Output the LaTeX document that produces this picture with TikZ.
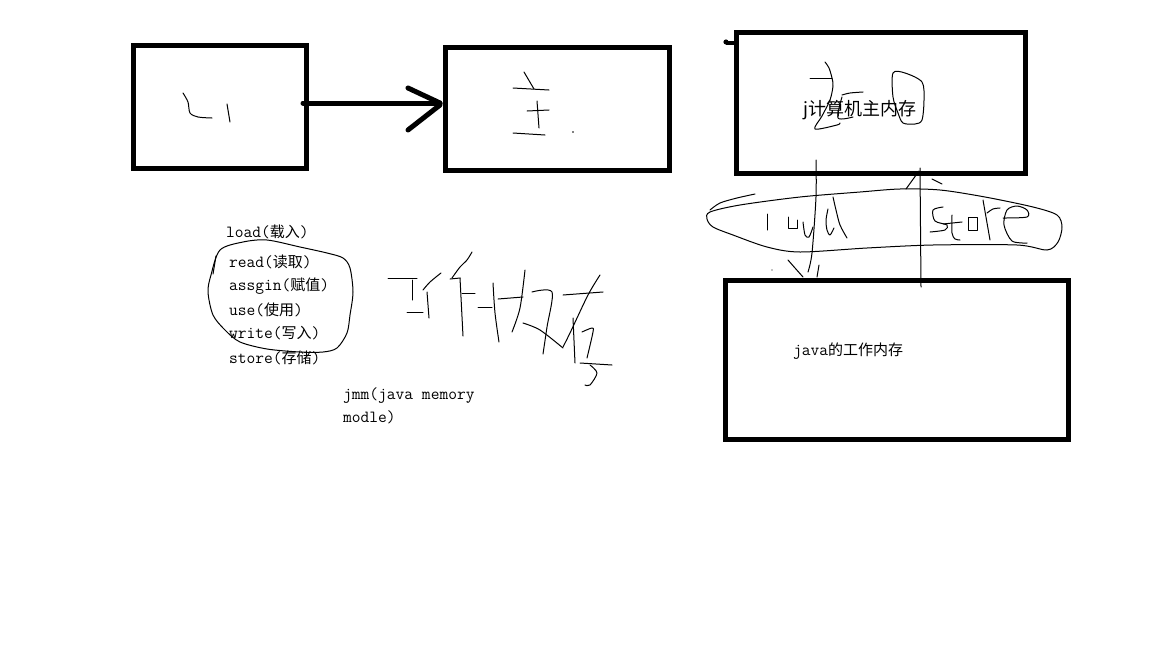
\documentclass[tikz,border=0pt]{standalone}
\usepackage{fontspec}
\usepackage{tikz}
\usetikzlibrary{positioning}
\newfontfamily\cjk{Noto Sans CJK SC}
\newcommand\zh[1]{{\cjk\fontsize{15}{18}\selectfont #1}}

\begin{document}
\begin{tikzpicture}[
    x=1pt, y=-1pt,
    memory box/.style={
        draw=black,
        line width=5pt,
        minimum width=#1,
        inner sep=0pt
    },
    txt/.style={
        font=\fontsize{17}{23}\selectfont\ttfamily,
        anchor=west,
        inner sep=0pt
    },
    pen/.style={line width=1pt, line cap=round, line join=round},
    heavy/.style={line width=5pt, line cap=round}
]
    \useasboundingbox (0,0) rectangle (1152,648);

    % the four boxes
    \node[memory box=173pt, minimum height=123pt] (ui) at (220,107) {};
    \node[memory box=224pt, minimum height=123pt] (main) at (557,109) {};
    \node[memory box=289pt, minimum height=141pt] (ram) at (881,103) {};
    \node[memory box=343pt, minimum height=159pt] (work) at (897,360) {};

    % arrow from ui to main
    \coordinate (tail) at (303,103);
    \coordinate (tip) at (440,103);
    \draw[heavy] (tail) -- (tip);
    \draw[heavy] (408,88) -- (tip);
    \draw[heavy] (408,130) -- (440,105);

    % scribbles in the top boxes
    \draw[pen] plot[smooth] coordinates {(183,93) (188,102) (190,113) (198,117) (212,118)};
    \draw[pen] (227,104) -- (230,122);
    \draw[pen] (524,72) -- (534,89);
    \draw[pen] (513,88) -- (549,90);
    \draw[pen] (537,101) -- (539,128);
    \draw[pen] (527,111) -- (549,110);
    \draw[pen] (513,133) -- (545,135);
    \fill (573,132) circle (0.8);
    \fill (726,42) circle (2.6);
    \draw[line width=4pt] (726,43) -- (ram.north west |- 0,43);
    \draw[pen] plot[smooth] coordinates {(825,62) (829,68) (832,78) (833,86) (830,100) (822,116) (815,129) (837,125) (840,123)};
    \draw[pen] (810,78) -- (832,78);
    \draw[pen] plot[smooth] coordinates {(842,95) (850,93) (863,92)};
    \draw[pen] plot[smooth] coordinates {(842,97) (838,118) (853,117)};
    \draw[pen] plot[smooth cycle] coordinates {(893,73) (905,73) (922,82) (924,100) (922,120) (915,124) (903,123) (898,113) (893,97)};

    % load / store
    \draw[pen] plot[smooth] coordinates {(816,160) (816,197) (812,253) (808,272)};
    \draw[pen] plot[smooth] coordinates {(788,260) (795,268) (803,277)};
    \draw[pen] (819,265) -- (817,277);
    \fill (772,270) circle (0.7);
    \draw[pen] (920,168) -- (921,287);
    \draw[pen] (906,189) -- (919,171);
    \draw[pen] (932,179) -- (942,184);
    \draw[pen] plot[smooth cycle] coordinates {(710,212) (740,205) (800,197) (860,192) (900,189) (940,190) (985,197) (1033,207) (1057,215) (1062,227) (1058,242) (1047,250) (1017,245) (933,245) (867,248) (800,252) (767,247) (733,235) (713,227) (707,219)};
    \draw[pen] plot[smooth] coordinates {(710,210) (720,203) (737,198) (755,194)};
    \draw[pen] (767,214) -- (767,230);
    \draw[pen] plot coordinates {(788,217) (788,228) (797,228) (797,220)};
    \draw[pen] plot[smooth] coordinates {(803,222) (805,235) (809,237) (813,227)};
    \draw[pen] plot[smooth] coordinates {(828,209) (826,220) (827,230) (830,235) (834,228)};
    \draw[pen] plot[smooth] coordinates {(833,197) (836,210) (840,225) (847,238)};
    \draw[pen] plot[smooth] coordinates {(943,207) (933,210) (935,221) (947,225) (945,230) (930,232)};
    \draw[pen] plot[smooth] coordinates {(952,215) (952,233) (955,239) (960,240)};
    \draw[pen] (943,224) -- (962,222);
    \draw[pen] (968,217) rectangle (977,230);
    \draw[pen] (983,200) -- (990,240);
    \draw[pen] plot[smooth] coordinates {(987,213) (993,209) (1000,208)};
    \draw[pen] plot[smooth] coordinates {(1003,218) (1027,217) (1027,210) (1017,206) (1007,210) (1004,225) (1012,241) (1027,243)};

    % hand-written word in the middle
    \draw[pen] (388,278) -- (417,278);
    \draw[pen] (412,280) -- (412,300);
    \draw[pen] (407,312) -- (423,312);
    \draw[pen] plot[smooth] coordinates {(423,290) (430,282) (441,273)};
    \draw[pen] (427,292) -- (429,318);
    \draw[pen] plot[smooth] coordinates {(472,252) (467,260) (460,267) (452,278)};
    \draw[pen] (450,279) -- (460,278);
    \draw[pen] (460,278) -- (463,336);
    \draw[pen] (462,293) -- (475,293);
    \draw[pen] (478,307) -- (492,307);
    \draw[pen] plot[smooth] coordinates {(493,283) (495,313) (499,342)};
    \draw[pen] (498,299) -- (523,297);
    \draw[pen] plot[smooth] coordinates {(525,270) (520,308) (512,332)};
    \draw[pen] plot[smooth] coordinates {(532,292) (552,292) (547,327) (543,354)};
    \draw[pen] plot[smooth] coordinates {(523,323) (540,330) (563,348)};
    \draw[pen] (563,295) -- (603,292);
    \draw[pen] plot[smooth] coordinates {(600,275) (588,295) (570,333) (563,347)};
    \draw[pen] (573,318) -- (575,363);
    \draw[pen] plot[smooth] coordinates {(582,332) (592,328) (593,332) (587,358)};
    \draw[pen] (580,363) -- (612,365);
    \draw[pen] plot[smooth] coordinates {(590,365) (597,373) (590,385) (585,385)};

    % loop round the operations
    \draw[pen] plot[smooth cycle] coordinates {(220,250) (243,242) (267,240) (300,247) (327,253) (343,258) (350,268) (353,292) (350,315) (347,333) (337,348) (323,352) (300,352) (267,349) (240,342) (225,330) (213,315) (208,292) (211,275)};
    \draw[pen] (216,256) -- (213,274);

    % texts
    \node[txt] (load) at (226,232) {load(\zh{载入})};
    \node[txt] (read) at (229,262) {read(\zh{读取})};
    \node[txt] (assign) at (229,286) {assgin(\zh{赋值})};
    \node[txt] (use) at (229,310) {use(\zh{使用})};
    \node[txt] (write) at (229,333) {write(\zh{写入})};
    \node[txt] (store) at (229,358) {store(\zh{存储})};
    \node[txt, align=left] (jmm) at (343,406) {jmm(java memory\\modle)};
    \node[anchor=west, inner sep=0pt, font=\cjk\fontsize{18}{20}\selectfont] (ramlabel) at (803,110) {j计算机主内存};
    \node[txt] (worklabel) at (793,351) {java\zh{的工作内存}};
\end{tikzpicture}
\end{document}
